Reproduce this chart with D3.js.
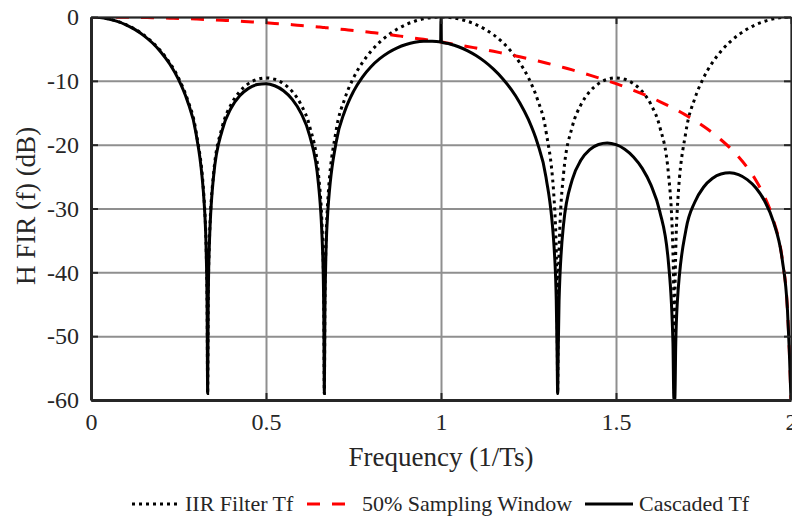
<!DOCTYPE html>
<html>
<head>
<meta charset="utf-8">
<script src="https://d3js.org/d3.v7.min.js"></script>
<style>
  body { margin: 0; background: #fff; }
</style>
</head>
<body>
<div id="chart"></div>
<script>
// frequency axis (1/Ts), extra points packed around the nulls and the spike at f = 1
const freq = [
  0, 0.025, 0.05, 0.075, 0.1, 0.125, 0.15, 0.175, 0.2, 0.225, 0.25, 0.275, 0.3, 0.325,
  0.3293, 0.3318, 0.3333, 0.3348, 0.3373,
  0.35, 0.375, 0.4, 0.425, 0.45, 0.475, 0.5, 0.525, 0.55, 0.575, 0.6, 0.625, 0.65,
  0.6627, 0.6652, 0.6667, 0.6682, 0.6707,
  0.675, 0.7, 0.725, 0.75, 0.775, 0.8, 0.825, 0.85, 0.875, 0.9, 0.925, 0.95, 0.975,
  0.999, 1, 1.001,
  1.025, 1.05, 1.075, 1.1, 1.125, 1.15, 1.175, 1.2, 1.225, 1.25, 1.275, 1.3, 1.325,
  1.3293, 1.3318, 1.3333, 1.3348, 1.3373,
  1.35, 1.375, 1.4, 1.425, 1.45, 1.475, 1.5, 1.525, 1.55, 1.575, 1.6, 1.625, 1.65,
  1.6627, 1.6652, 1.6667, 1.6682, 1.6707,
  1.675, 1.7, 1.725, 1.75, 1.775, 1.8, 1.825, 1.85, 1.875, 1.9, 1.925, 1.95, 1.975,
  1.99, 1.995, 2
];

const iirDb = [
  0, -0.07, -0.29, -0.66, -1.18, -1.89, -2.79, -3.93, -5.36, -7.18, -9.54, -12.80, -17.90, -30.26,
  -36.77, -45.29, -59, -45.29, -36.77,
  -24.65, -17.20, -13.72, -11.68, -10.44, -9.76, -9.54, -9.76, -10.44, -11.68, -13.72, -17.20, -24.65,
  -36.77, -45.29, -59, -45.29, -36.77,
  -30.26, -17.90, -12.80, -9.54, -7.18, -5.36, -3.93, -2.79, -1.89, -1.18, -0.66, -0.29, -0.07,
  0, 0, 0,
  -0.07, -0.29, -0.66, -1.18, -1.89, -2.79, -3.93, -5.36, -7.18, -9.54, -12.80, -17.90, -30.26,
  -36.77, -45.29, -59, -45.29, -36.77,
  -24.65, -17.20, -13.72, -11.68, -10.44, -9.76, -9.54, -9.76, -10.44, -11.68, -13.72, -17.20, -24.65,
  -36.77, -45.29, -59, -45.29, -36.77,
  -30.26, -17.90, -12.80, -9.54, -7.18, -5.36, -3.93, -2.79, -1.89, -1.18, -0.66, -0.29, -0.07,
  -0.01, 0, 0
];

const windowDb = [
  0, 0, -0.01, -0.02, -0.04, -0.06, -0.08, -0.11, -0.14, -0.18, -0.22, -0.27, -0.32, -0.38,
  -0.39, -0.40, -0.40, -0.40, -0.41,
  -0.44, -0.51, -0.58, -0.66, -0.74, -0.82, -0.91, -1.01, -1.11, -1.21, -1.33, -1.44, -1.57,
  -1.63, -1.64, -1.65, -1.66, -1.67,
  -1.69, -1.83, -1.97, -2.11, -2.26, -2.42, -2.58, -2.75, -2.93, -3.11, -3.31, -3.50, -3.71,
  -3.91, -3.92, -3.93,
  -4.14, -4.37, -4.61, -4.86, -5.11, -5.38, -5.66, -5.94, -6.24, -6.55, -6.87, -7.20, -7.55,
  -7.61, -7.65, -7.67, -7.69, -7.73,
  -7.91, -8.29, -8.69, -9.10, -9.53, -9.98, -10.45, -10.95, -11.48, -12.03, -12.62, -13.24, -13.91,
  -14.27, -14.34, -14.39, -14.43, -14.50,
  -14.62, -15.39, -16.22, -17.13, -18.12, -19.23, -20.47, -21.90, -23.58, -25.61, -28.21, -31.83, -37.96,
  -45.98, -52.02, -60
];

const cascadedDb = [
  0, -0.07, -0.30, -0.68, -1.22, -1.94, -2.87, -4.04, -5.51, -7.36, -9.77, -13.07, -18.22, -30.64,
  -37.16, -45.69, -59, -45.69, -37.18,
  -25.09, -17.71, -14.30, -12.34, -11.18, -10.58, -10.45, -10.77, -11.55, -12.90, -15.05, -18.64, -26.22,
  -38.40, -46.93, -59, -46.95, -38.44,
  -31.95, -19.73, -14.77, -11.65, -9.44, -7.78, -6.52, -5.55, -4.82, -4.30, -3.96, -3.79, -3.78,
  -3.91, -0.2, -3.93,
  -4.22, -4.66, -5.27, -6.04, -7.00, -8.17, -9.59, -11.31, -13.42, -16.09, -19.67, -25.10, -37.81,
  -44.38, -52.94, -59, -52.98, -44.50,
  -32.56, -25.49, -22.41, -20.78, -19.97, -19.74, -20.00, -20.71, -21.92, -23.71, -26.34, -30.45, -38.56,
  -51.04, -59.63, -60, -59.72, -51.27,
  -44.88, -33.29, -29.02, -26.67, -25.30, -24.59, -24.41, -24.69, -25.47, -26.79, -28.86, -32.12, -38.03,
  -45.99, -52.02, -60
];

const xTicks = [0, 0.5, 1, 1.5, 2];
const yTicks = [0, -10, -20, -30, -40, -50, -60];
const legendLabels = ['IIR Filter Tf', '50% Sampling Window', 'Cascaded Tf'];

const W = 792, H = 518;
const plot = { left: 91, right: 791, top: 17, bottom: 400 };
const ink = '#262626';
const serif = "'Times New Roman', 'Liberation Serif', 'DejaVu Serif', serif";

const svg = d3.select('#chart').append('svg')
    .attr('width', W)
    .attr('height', H)
    .style('font-family', serif);

const x = d3.scaleLinear().domain([0, 2]).range([plot.left, plot.right]);
const y = d3.scaleLinear().domain([-60, 0]).range([plot.bottom, plot.top]);

// grid
svg.append('g')
    .attr('transform', `translate(0,${plot.bottom})`)
    .call(d3.axisBottom(x).tickValues(xTicks).tickSize(-(plot.bottom - plot.top)).tickFormat(''))
    .call(g => g.select('.domain').remove())
    .selectAll('line').attr('stroke', '#8f8f8f').attr('stroke-width', 2);
svg.append('g')
    .attr('transform', `translate(${plot.left},0)`)
    .call(d3.axisLeft(y).tickValues(yTicks).tickSize(-(plot.right - plot.left)).tickFormat(''))
    .call(g => g.select('.domain').remove())
    .selectAll('line').attr('stroke', '#8f8f8f').attr('stroke-width', 2);

// curves
svg.append('clipPath').attr('id', 'clip')
    .append('rect')
    .attr('x', plot.left).attr('y', plot.top)
    .attr('width', plot.right - plot.left).attr('height', plot.bottom - plot.top);

const line = d3.line()
    .x((d, i) => x(freq[i]))
    .y(d => y(d))
    .curve(d3.curveMonotoneX);

const series = [
  { values: iirDb, color: '#000', dash: '3,4' },
  { values: windowDb, color: '#ff0000', dash: '13,12' },
  { values: cascadedDb, color: '#000', dash: null }
];

svg.append('g').attr('clip-path', 'url(#clip)')
    .selectAll('path')
    .data(series)
    .join('path')
    .attr('d', d => line(d.values))
    .attr('fill', 'none')
    .attr('stroke', d => d.color)
    .attr('stroke-width', 3)
    .attr('stroke-dasharray', d => d.dash);

// axes box with inward ticks
const fmt = d => String(d);
function styleAxis(g, width) {
  g.select('.domain').attr('stroke', ink).attr('stroke-width', width);
  g.selectAll('.tick line').attr('stroke', ink).attr('stroke-width', 2);
  g.attr('font-family', serif).attr('font-size', 24);
  g.selectAll('text').style('font-family', serif).attr('fill', ink);
}
svg.append('g')
    .attr('transform', `translate(0,${plot.top})`)
    .call(d3.axisTop(x).tickValues(xTicks).tickSizeInner(-7).tickSizeOuter(0).tickFormat(''))
    .call(g => styleAxis(g, 2));
svg.append('g')
    .attr('transform', `translate(${plot.right},0)`)
    .call(d3.axisRight(y).tickValues(yTicks).tickSizeInner(-7).tickSizeOuter(0).tickFormat(''))
    .call(g => styleAxis(g, 2));
svg.append('g')
    .attr('transform', `translate(0,${plot.bottom})`)
    .call(d3.axisBottom(x).tickValues(xTicks).tickSizeInner(-7).tickSizeOuter(0).tickPadding(13).tickFormat(fmt))
    .call(g => styleAxis(g, 3));
svg.append('g')
    .attr('transform', `translate(${plot.left},0)`)
    .call(d3.axisLeft(y).tickValues(yTicks).tickSizeInner(-7).tickSizeOuter(0).tickPadding(12).tickFormat(fmt))
    .call(g => styleAxis(g, 3));

// axis titles
svg.append('text')
    .attr('x', (plot.left + plot.right) / 2)
    .attr('y', 466)
    .attr('text-anchor', 'middle')
    .attr('font-size', 27)
    .attr('fill', ink)
    .style('font-family', serif)
    .text('Frequency (1/Ts)');
svg.append('text')
    .attr('transform', `translate(35,206) rotate(-90)`)
    .attr('text-anchor', 'middle')
    .attr('font-size', 27)
    .attr('fill', ink)
    .style('font-family', serif)
    .text('H FIR (f) (dB)');

// legend
const legendPos = [
  { x1: 132, x2: 178, tx: 185 },
  { x1: 307, x2: 345, tx: 362 },
  { x1: 585, x2: 633, tx: 639 }
];
const legend = svg.append('g')
    .selectAll('g')
    .data(series)
    .join('g');
legend.append('line')
    .attr('x1', (d, i) => legendPos[i].x1)
    .attr('x2', (d, i) => legendPos[i].x2)
    .attr('y1', 504).attr('y2', 504)
    .attr('stroke', d => d.color)
    .attr('stroke-width', 3)
    .attr('stroke-dasharray', d => d.dash);
legend.append('text')
    .attr('x', (d, i) => legendPos[i].tx)
    .attr('y', 511)
    .attr('font-size', 22)
    .attr('fill', ink)
    .style('font-family', serif)
    .text((d, i) => legendLabels[i]);
</script>
</body>
</html>
